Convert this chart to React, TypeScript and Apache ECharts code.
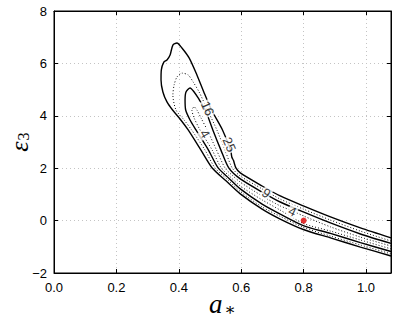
import React, { useEffect, useRef } from "react";
import * as echarts from "echarts";

// ---- data ----
const X_MIN = 0;
const X_MAX = 1.08;
const Y_MIN = -2;
const Y_MAX = 8;
const X_INTERVAL = 0.2;
const Y_INTERVAL = 2;

// Δχ² = 25 contour (solid): upper branch from right edge to tip, then lower branch back
const contour25: [number, number][] = [
  [1.08, -0.66], [0.982, -0.28], [0.886, 0.14], [0.799, 0.56], [0.725, 0.94], [0.667, 1.32],
  [0.597, 1.82], [0.583, 2.01], [0.575, 2.3], [0.57, 2.42], [0.566, 2.69], [0.54, 3.46], [0.505, 4.22],
  [0.48, 4.91], [0.458, 5.56], [0.433, 6.21], [0.41, 6.59], [0.394, 6.78],
  [0.381, 6.7], [0.372, 6.32], [0.362, 6.13], [0.352, 6.05], [0.344, 5.75], [0.343, 5.37],
  [0.349, 4.91], [0.362, 4.53], [0.38, 4.22], [0.404, 3.88], [0.43, 3.46], [0.471, 2.69],
  [0.507, 2.01], [0.552, 1.51], [0.597, 1.02], [0.667, 0.44], [0.725, 0.06], [0.799, -0.34],
  [0.886, -0.66], [0.982, -1.01], [1.08, -1.35],
];

// Δχ² = 16 contour (dotted)
const contour16: [number, number][] = [
  [1.08, -0.78], [0.982, -0.4], [0.886, 0.02], [0.799, 0.44], [0.725, 0.82], [0.667, 1.21],
  [0.597, 1.7], [0.571, 2.01], [0.548, 2.69], [0.522, 3.46], [0.492, 4.22], [0.465, 4.91],
  [0.446, 5.29], [0.43, 5.56], [0.41, 5.63],
  [0.394, 5.48], [0.385, 5.18], [0.381, 4.79], [0.391, 4.22], [0.417, 3.84], [0.441, 3.46],
  [0.484, 2.69], [0.516, 2.01], [0.555, 1.58], [0.597, 1.11], [0.667, 0.52], [0.725, 0.16],
  [0.799, -0.26], [0.886, -0.59], [0.982, -0.93], [1.08, -1.27],
];

// Δχ² = 9 contour (solid)
const contour9: [number, number][] = [
  [1.08, -0.87], [0.982, -0.51], [0.886, -0.09], [0.799, 0.33], [0.725, 0.71], [0.667, 1.09],
  [0.597, 1.59], [0.56, 2.01], [0.535, 2.69], [0.509, 3.46], [0.485, 4.22], [0.462, 4.68],
  [0.449, 4.91], [0.436, 5.06],
  [0.423, 4.91], [0.42, 4.6], [0.422, 4.22], [0.436, 3.84], [0.455, 3.46], [0.495, 2.69],
  [0.526, 2.01], [0.561, 1.61], [0.597, 1.21], [0.667, 0.63], [0.725, 0.25], [0.799, -0.19],
  [0.886, -0.49], [0.982, -0.84], [1.08, -1.18],
];

// Δχ² = 4 contour (dotted)
const contour4: [number, number][] = [
  [1.08, -0.97], [0.982, -0.63], [0.886, -0.24], [0.799, 0.18], [0.764, 0.37], [0.725, 0.56],
  [0.667, 0.94], [0.597, 1.47], [0.571, 1.73], [0.548, 2.01], [0.521, 2.69], [0.491, 3.46],
  [0.471, 3.92], [0.458, 4.22], [0.449, 4.34],
  [0.442, 4.22], [0.449, 3.92], [0.468, 3.46], [0.507, 2.69], [0.536, 2.01], [0.564, 1.68],
  [0.597, 1.32], [0.667, 0.79], [0.725, 0.4], [0.799, -0.11], [0.886, -0.4], [0.982, -0.74],
  [1.08, -1.08],
];

// inline contour labels: text and anchor in data coordinates
const labelTexts = ["16", "25", "4", "9", "4"];
const labelAnchors: [number, number][] = [
  [0.492, 4.28],
  [0.562, 2.9],
  [0.484, 3.31],
  [0.68, 1.05],
  [0.764, 0.35],
];

// best-fit point
const bestFit: [number, number] = [0.8, 0.0];

// ---- styling ----
const labelRotations = [-66, -66, -60, -35, -25];
const SANS = "'Liberation Sans', Arial, Helvetica, sans-serif";
const SERIF = "'Liberation Serif', 'DejaVu Serif', serif";

function isOnInterval(v: number, step: number) {
  const k = v / step;
  return Math.abs(k - Math.round(k)) < 1e-6;
}

export default function App() {
  const ref = useRef<HTMLDivElement>(null);

  useEffect(() => {
    if (!ref.current) return;
    const chart = echarts.init(ref.current, undefined, { renderer: "svg" });

    const solid = { color: "#000", width: 1.4, type: "solid" as const };
    const dotted = { color: "#111", width: 1, type: [1, 2] as any };

    const contourSeries = (data: [number, number][], lineStyle: any, name: string) => ({
      name,
      type: "line",
      data,
      showSymbol: false,
      symbol: "none",
      smooth: 0.25,
      lineStyle,
      silent: true,
      z: 2,
    });

    const option: any = {
      animation: false,
      backgroundColor: "#fff",
      grid: {
        left: 54,
        right: 7,
        top: 11,
        bottom: 54,
        show: true,
        borderColor: "#000",
        borderWidth: 1,
        containLabel: false,
        outerBoundsMode: "none",
      },
      xAxis: [
        {
          type: "value",
          min: X_MIN,
          max: X_MAX,
          interval: X_INTERVAL,
          name: "{a|a}{s|∗}",
          nameLocation: "middle",
          nameGap: 16,
          nameMoveOverlap: false,
          nameTextStyle: {
            rich: {
              a: { fontFamily: SERIF, fontStyle: "italic", fontSize: 27, color: "#000" },
              s: { fontFamily: SERIF, fontSize: 17, color: "#000", padding: [12, 0, 0, 2] },
            },
          },
          axisLine: { show: true, onZero: false, lineStyle: { color: "#000", width: 1 } },
          axisTick: { show: true, inside: true, length: 4, lineStyle: { color: "#000" } },
          axisLabel: {
            color: "#000",
            fontSize: 13,
            fontFamily: SANS,
            margin: 8,
            formatter: (v: number) => (isOnInterval(v, X_INTERVAL) ? v.toFixed(1) : ""),
          },
          splitLine: { show: true, lineStyle: { type: [1, 3], color: "#c4c4c4", width: 1 } },
        },
        {
          type: "value",
          position: "top",
          min: X_MIN,
          max: X_MAX,
          interval: X_INTERVAL,
          axisLine: { show: true, onZero: false, lineStyle: { color: "#000" } },
          axisTick: { show: true, inside: true, length: 4, lineStyle: { color: "#000" } },
          axisLabel: { show: false },
          splitLine: { show: false },
        },
      ],
      yAxis: [
        {
          type: "value",
          min: Y_MIN,
          max: Y_MAX,
          interval: Y_INTERVAL,
          name: "{e|ε}{s|3}",
          nameLocation: "middle",
          nameGap: 22,
          nameMoveOverlap: false,
          nameTextStyle: {
            rich: {
              e: { fontFamily: SERIF, fontStyle: "italic", fontSize: 26, color: "#000" },
              s: { fontFamily: SERIF, fontSize: 16, color: "#000", padding: [8, 0, 0, 1] },
            },
          },
          axisLine: { show: true, onZero: false, lineStyle: { color: "#000", width: 1 } },
          axisTick: { show: true, inside: true, length: 4, lineStyle: { color: "#000" } },
          axisLabel: {
            color: "#000",
            fontSize: 13,
            fontFamily: SANS,
            margin: 7,
            formatter: (v: number) => String(v).replace("-", "\u2212"),
          },
          splitLine: { show: true, lineStyle: { type: [1, 3], color: "#c4c4c4", width: 1 } },
        },
        {
          type: "value",
          position: "right",
          min: Y_MIN,
          max: Y_MAX,
          interval: Y_INTERVAL,
          axisLine: { show: true, onZero: false, lineStyle: { color: "#000" } },
          axisTick: { show: true, inside: true, length: 4, lineStyle: { color: "#000" } },
          axisLabel: { show: false },
          splitLine: { show: false },
        },
      ],
      series: [
        contourSeries(contour25, solid, "25"),
        contourSeries(contour16, dotted, "16"),
        contourSeries(contour9, solid, "9"),
        contourSeries(contour4, dotted, "4"),
        {
          type: "scatter",
          name: "labels",
          symbolSize: 0,
          silent: true,
          z: 5,
          data: labelAnchors.map((p, i) => ({
            value: p,
            name: labelTexts[i],
            label: { rotate: labelRotations[i] },
          })),
          label: {
            show: true,
            position: "inside",
            formatter: (p: any) => p.name,
            color: "#000",
            fontSize: 13,
            fontFamily: SANS,
            textBorderWidth: 0,
            backgroundColor: "#fff",
            padding: [0, 1],
          },
        },
        {
          type: "scatter",
          name: "best fit",
          data: [bestFit],
          symbol: "circle",
          symbolSize: 6,
          itemStyle: { color: "#dd0000" },
          silent: true,
          z: 6,
        },
      ],
    };

    chart.setOption(option);
    return () => chart.dispose();
  }, []);

  return <div ref={ref} style={{ width: 398, height: 327, position: "absolute", left: 0, top: 0 }} />;
}
